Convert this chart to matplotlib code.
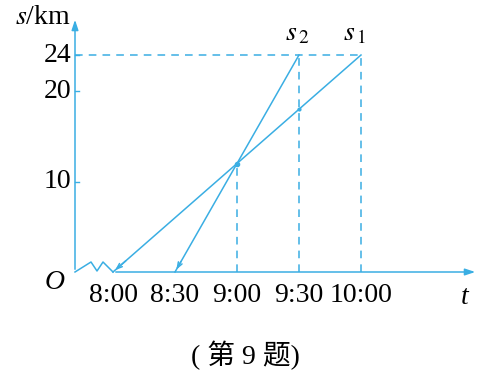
import matplotlib
matplotlib.use("Agg")
import matplotlib.pyplot as plt

plt.rcParams["mathtext.fontset"] = "stix"

# data (minutes after 8:00, km)
tick_min = [0, 30, 60, 90, 120]
tick_labels = ["8:00", "8:30", "9:00", "9:30", "10:00"]
y_ticks = [10, 20, 24]
s1_t = [0, 120]
s1_s = [0, 24]
s2_t = [30, 90]
s2_s = [0, 24]
meet_t, meet_s = 60, 12

C = "#3aaee3"
SERIF = ["Liberation Serif", "DejaVu Serif"]

fig = plt.figure(figsize=(4.83, 3.88), dpi=100)
ax = fig.add_axes([0, 0, 1, 1])
ax.axis("off")
# pixel mapping: 8:00 at x=113, 62 px per 30 min; s=0 at y=272, 9.04 px per km
px_per_min = 62 / 30
px_per_km = 217 / 24
ax.set_xlim(-113 / px_per_min, (483 - 113) / px_per_min)
ax.set_ylim(-(388 - 272) / px_per_km, 272 / px_per_km)

yax = -38 / px_per_min          # y-axis position (broken axis)
xend = (478 - 113) / px_per_min
ytop = (272 - 17) / px_per_km

# axes with arrows
ax.annotate("", xy=(yax, ytop), xytext=(yax, 0),
            arrowprops=dict(arrowstyle="-|>,head_length=0.6,head_width=0.2", color=C, lw=1.1))
ax.annotate("", xy=(xend, 0), xytext=(0, 0),
            arrowprops=dict(arrowstyle="-|>,head_length=0.6,head_width=0.2", color=C, lw=1.1))
# zigzag break
zx = [75, 91, 97, 103, 113]
zy = [272, 262, 271, 262, 272]
ax.plot([(x - 113) / px_per_min for x in zx], [(272 - y) / px_per_km for y in zy], color=C, lw=1.1)

# y ticks
for v in y_ticks:
    ax.plot([yax, yax + 4 / px_per_min], [v, v], color=C, lw=1)
    ax.text(yax - 4 / px_per_min, v, str(v), ha="right", va="center", fontsize=20, family=SERIF)

# dashed guides
dash = dict(color=C, lw=1.1, ls=(0, (5, 4)))
ax.plot([yax, s1_t[1]], [24, 24], **dash)
ax.plot([s2_t[1], s2_t[1]], [0, 24], **dash)
ax.plot([s1_t[1], s1_t[1]], [0, 24], **dash)
ax.plot([meet_t, meet_t], [0, meet_s], **dash)

# lines
ax.plot(s1_t, s1_s, color=C, lw=1.1)
ax.plot(s2_t, s2_s, color=C, lw=1.1)
for t0, t1, s1 in [(s1_t[0], s1_t[1], s1_s[1]), (s2_t[0], s2_t[1], s2_s[1])]:
    f = 0.06
    ax.annotate("", xy=(t0, 0), xytext=(t0 + f * (t1 - t0), f * s1),
                arrowprops=dict(arrowstyle="->,head_length=0.4,head_width=0.15", color=C, lw=1.1))
ax.plot([meet_t], [meet_s], "o", color=C, ms=3)
ax.plot([90], [18], "o", color=C, ms=2)

# x tick labels
for m, lab in zip(tick_min, tick_labels):
    ax.text(m, -2.65, lab, ha="center", va="center", fontsize=20, family=SERIF)

ax.text(yax - 20 / px_per_min, -1.2, "O", ha="center", va="center", fontsize=20,
        family=SERIF, style="italic")
ax.text((465 - 113) / px_per_min, -2.8, "t", ha="center", va="center", fontsize=20,
        family=SERIF, style="italic")
ax.text(yax - 4 / px_per_min, (272 - 18) / px_per_km, "$s$/km", ha="right", va="center",
        fontsize=20, family=SERIF)
ax.text(s2_t[1] - 1, 24.9, "$s_{\\,2}$", ha="center", va="bottom", fontsize=20)
ax.text(s1_t[1] - 3, 24.9, "$s_{\\,1}$", ha="center", va="bottom", fontsize=20)

ax.text((245 - 113) / px_per_min, -(355 - 272) / px_per_km, "( 第 9 题)", ha="center",
        va="center", fontsize=20, family=["Liberation Serif", "Noto Sans CJK SC"])

fig.savefig("out.png", dpi=100)
